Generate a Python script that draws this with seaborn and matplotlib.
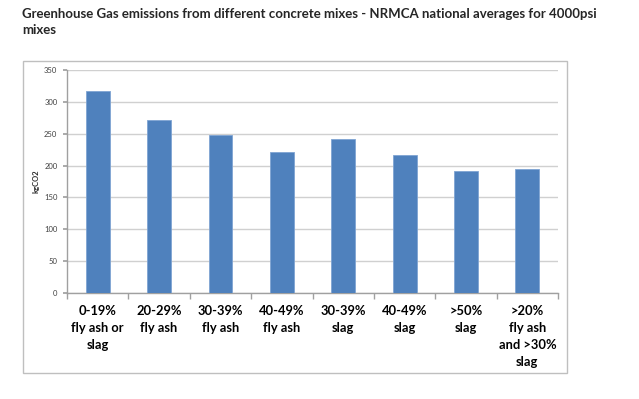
import seaborn as sns
import pandas as pd
import matplotlib.pyplot as plt
from matplotlib.patches import Rectangle

# Values
mixes = ["0-19%\nfly ash or\nslag", "20-29%\nfly ash", "30-39%\nfly ash", "40-49%\nfly ash",
         "30-39%\nslag", "40-49%\nslag", ">50%\nslag", ">20%\nfly ash\nand >30%\nslag"]
kgco2 = [317, 272, 248, 222, 242, 217, 192, 194]
yticks = [0, 50, 100, 150, 200, 250, 300, 350]

df = pd.DataFrame({"mix": mixes, "kgCO2": kgco2})

sns.set_theme(style="white")
plt.rcParams['font.family'] = ['Lato', 'DejaVu Sans']

fig = plt.figure(figsize=(6.39, 3.99), dpi=100)
ax = fig.add_axes([0.1049, 0.2657, 0.7684, 0.5589])

sns.barplot(data=df, x="mix", y="kgCO2", color="#4F81BD", saturation=1, width=0.39,
            edgecolor="#7FA4D3", linewidth=0.6, ax=ax, zorder=3)

ax.set_ylim(0, 350)
ax.set_xlim(-0.5, len(mixes) - 0.5)
ax.set_yticks(yticks)
ax.set_yticklabels([str(v) for v in yticks], fontsize=5.5, color="#404040")
ax.yaxis.grid(True, color="#D0D0D0", linewidth=1, zorder=0)
ax.set_xticks(range(len(mixes)))
ax.set_xticklabels(mixes, fontsize=9.3, fontweight="bold", color="black", linespacing=1.5)
ax.tick_params(axis="x", length=0, pad=9)
ax.tick_params(axis="y", left=True, length=3, color="#A0A0A0", pad=4)
# category separator ticks on the x axis, like Excel
ax.set_xticks([i - 0.5 for i in range(len(mixes) + 1)], minor=True)
ax.tick_params(axis="x", which="minor", bottom=True, length=4, color="#A0A0A0")

for side in ["top", "right"]:
    ax.spines[side].set_visible(False)
for side in ["left", "bottom"]:
    ax.spines[side].set_color("#A0A0A0")
    ax.spines[side].set_linewidth(1)

ax.set_xlabel("")
ax.set_ylabel("kgCO2", fontsize=5.5, fontweight="bold", labelpad=3)

# chart area border
fig.patches.append(Rectangle((22.7 / 639, 1 - 373 / 399), (566.7 - 22.7) / 639, (373 - 60.7) / 399,
                             transform=fig.transFigure, fill=False, edgecolor="#BFBFBF", linewidth=1))

fig.text(22 / 639, 1 - 8 / 399,
         "Greenhouse Gas emissions from different concrete mixes - NRMCA national averages for 4000psi\nmixes",
         fontsize=9.5, fontweight="bold", va="top", ha="left", linespacing=1.35)

fig.savefig("out.png", dpi=100, facecolor="white")
